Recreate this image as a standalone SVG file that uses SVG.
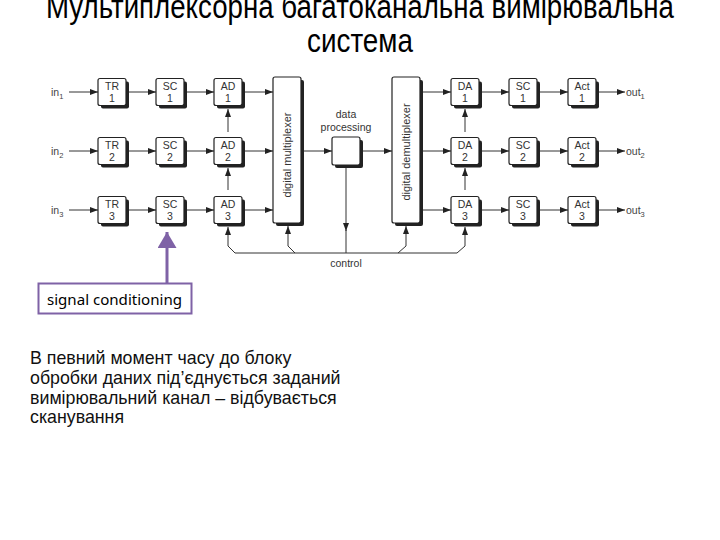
<svg xmlns="http://www.w3.org/2000/svg" width="720" height="540" viewBox="0 0 720 540">
<defs>
<style>
.t{font-family:"Liberation Sans",Arial,sans-serif;fill:#000}
.d{font-family:"Liberation Sans",Arial,sans-serif;fill:#333;font-size:10.5px;text-anchor:middle}
.v{font-size:11px}
.lbl{font-family:"Liberation Sans",Arial,sans-serif;fill:#444;font-size:10.5px}
.sub{font-size:7.5px}
.box{fill:#fff;stroke:#222;stroke-width:1.2}
.sh{fill:#222}
.ln{fill:none;stroke:#333;stroke-width:1}
.body{font-family:"Liberation Sans",Arial,sans-serif;font-size:17.8px;fill:#111}
</style>
<marker id="ah" viewBox="0 0 8 6" refX="8" refY="3" markerWidth="8" markerHeight="6" markerUnits="userSpaceOnUse" orient="auto">
<path d="M0,0 L8,3 L0,6 z" fill="#222"/>
</marker>
<marker id="pa" viewBox="0 0 16 19" refX="16" refY="9.5" markerWidth="16" markerHeight="19" markerUnits="userSpaceOnUse" orient="auto">
<path d="M0,0 L16,9.5 L0,19 z" fill="#7f62a6"/>
</marker>
</defs>

<g id="title">
<text class="t" x="360" y="18" font-size="33" text-anchor="middle" textLength="628" lengthAdjust="spacingAndGlyphs">Мультиплексорна багатоканальна вимірювальна</text>
<text class="t" x="360" y="52" font-size="33" text-anchor="middle" textLength="106" lengthAdjust="spacingAndGlyphs">система</text>
</g>

<g id="labels">
<text class="lbl" x="51" y="96">in<tspan class="sub" dy="3">1</tspan></text>
<text class="lbl" x="51" y="155">in<tspan class="sub" dy="3">2</tspan></text>
<text class="lbl" x="51" y="214">in<tspan class="sub" dy="3">3</tspan></text>
<text class="lbl" x="626" y="96">out<tspan class="sub" dy="3">1</tspan></text>
<text class="lbl" x="626" y="155">out<tspan class="sub" dy="3">2</tspan></text>
<text class="lbl" x="626" y="214">out<tspan class="sub" dy="3">3</tspan></text>
<text class="d" x="346" y="118">data</text>
<text class="d" x="346" y="131">processing</text>
<text class="d" x="346" y="267">control</text>
</g>

<g id="connectors">
<line class="ln" x1="69" y1="92" x2="98" y2="92" marker-end="url(#ah)"/>
<line class="ln" x1="69" y1="151" x2="98" y2="151" marker-end="url(#ah)"/>
<line class="ln" x1="69" y1="210" x2="98" y2="210" marker-end="url(#ah)"/>
<line class="ln" x1="129" y1="92" x2="156" y2="92" marker-end="url(#ah)"/>
<line class="ln" x1="129" y1="151" x2="156" y2="151" marker-end="url(#ah)"/>
<line class="ln" x1="129" y1="210" x2="156" y2="210" marker-end="url(#ah)"/>
<line class="ln" x1="187" y1="92" x2="214" y2="92" marker-end="url(#ah)"/>
<line class="ln" x1="187" y1="151" x2="214" y2="151" marker-end="url(#ah)"/>
<line class="ln" x1="187" y1="210" x2="214" y2="210" marker-end="url(#ah)"/>
<line class="ln" x1="245" y1="92" x2="273" y2="92" marker-end="url(#ah)"/>
<line class="ln" x1="245" y1="151" x2="273" y2="151" marker-end="url(#ah)"/>
<line class="ln" x1="245" y1="210" x2="273" y2="210" marker-end="url(#ah)"/>
<line class="ln" x1="304" y1="151" x2="332" y2="151" marker-end="url(#ah)"/>
<line class="ln" x1="363" y1="151" x2="392" y2="151" marker-end="url(#ah)"/>
<line class="ln" x1="423" y1="92" x2="451" y2="92" marker-end="url(#ah)"/>
<line class="ln" x1="423" y1="151" x2="451" y2="151" marker-end="url(#ah)"/>
<line class="ln" x1="423" y1="210" x2="451" y2="210" marker-end="url(#ah)"/>
<line class="ln" x1="482" y1="92" x2="509" y2="92" marker-end="url(#ah)"/>
<line class="ln" x1="482" y1="151" x2="509" y2="151" marker-end="url(#ah)"/>
<line class="ln" x1="482" y1="210" x2="509" y2="210" marker-end="url(#ah)"/>
<line class="ln" x1="540" y1="92" x2="568" y2="92" marker-end="url(#ah)"/>
<line class="ln" x1="540" y1="151" x2="568" y2="151" marker-end="url(#ah)"/>
<line class="ln" x1="540" y1="210" x2="568" y2="210" marker-end="url(#ah)"/>
<line class="ln" x1="599" y1="92" x2="625" y2="92" marker-end="url(#ah)"/>
<line class="ln" x1="599" y1="151" x2="625" y2="151" marker-end="url(#ah)"/>
<line class="ln" x1="599" y1="210" x2="625" y2="210" marker-end="url(#ah)"/>
<line class="ln" x1="228" y1="132" x2="228" y2="109" marker-end="url(#ah)"/>
<line class="ln" x1="228" y1="190" x2="228" y2="168" marker-end="url(#ah)"/>
<line class="ln" x1="465" y1="132" x2="465" y2="109" marker-end="url(#ah)"/>
<line class="ln" x1="465" y1="190" x2="465" y2="168" marker-end="url(#ah)"/>
<line class="ln" x1="235" y1="253" x2="457" y2="253"/>
<polyline class="ln" points="235,253 228,246 228,227" marker-end="url(#ah)"/>
<polyline class="ln" points="295,253 288,246 288,226" marker-end="url(#ah)"/>
<polyline class="ln" points="398,253 406,246 406,226" marker-end="url(#ah)"/>
<polyline class="ln" points="457,253 465,246 465,227" marker-end="url(#ah)"/>
<line class="ln" x1="346" y1="168" x2="346" y2="231" marker-end="url(#ah)"/>
<line class="ln" x1="346" y1="230" x2="346" y2="253"/>
</g>

<g id="TR1"><rect class="sh" x="101" y="81.5" width="28" height="27" rx="2"/><rect class="box" x="98" y="78.5" width="28" height="27" rx="2"/><text class="d" x="112" y="90">TR</text><text class="d" x="112" y="101.5">1</text></g>
<g id="TR2"><rect class="sh" x="101" y="140.5" width="28" height="27" rx="2"/><rect class="box" x="98" y="137.5" width="28" height="27" rx="2"/><text class="d" x="112" y="149">TR</text><text class="d" x="112" y="160.5">2</text></g>
<g id="TR3"><rect class="sh" x="101" y="199.5" width="28" height="27" rx="2"/><rect class="box" x="98" y="196.5" width="28" height="27" rx="2"/><text class="d" x="112" y="208">TR</text><text class="d" x="112" y="219.5">3</text></g>

<g id="SC1"><rect class="sh" x="159" y="81.5" width="28" height="27" rx="2"/><rect class="box" x="156" y="78.5" width="28" height="27" rx="2"/><text class="d" x="170" y="90">SC</text><text class="d" x="170" y="101.5">1</text></g>
<g id="SC2"><rect class="sh" x="159" y="140.5" width="28" height="27" rx="2"/><rect class="box" x="156" y="137.5" width="28" height="27" rx="2"/><text class="d" x="170" y="149">SC</text><text class="d" x="170" y="160.5">2</text></g>
<g id="SC3"><rect class="sh" x="159" y="199.5" width="28" height="27" rx="2"/><rect class="box" x="156" y="196.5" width="28" height="27" rx="2"/><text class="d" x="170" y="208">SC</text><text class="d" x="170" y="219.5">3</text></g>

<g id="AD1"><rect class="sh" x="217" y="81.5" width="28" height="27" rx="2"/><rect class="box" x="214" y="78.5" width="28" height="27" rx="2"/><text class="d" x="228" y="90">AD</text><text class="d" x="228" y="101.5">1</text></g>
<g id="AD2"><rect class="sh" x="217" y="140.5" width="28" height="27" rx="2"/><rect class="box" x="214" y="137.5" width="28" height="27" rx="2"/><text class="d" x="228" y="149">AD</text><text class="d" x="228" y="160.5">2</text></g>
<g id="AD3"><rect class="sh" x="217" y="199.5" width="28" height="27" rx="2"/><rect class="box" x="214" y="196.5" width="28" height="27" rx="2"/><text class="d" x="228" y="208">AD</text><text class="d" x="228" y="219.5">3</text></g>

<g id="mux"><rect class="sh" x="276" y="80" width="28" height="146" rx="2"/><rect class="box" x="273" y="77" width="28" height="146" rx="2"/><text class="d v" transform="translate(291,155) rotate(-90)">digital  multiplexer</text></g>
<g id="dataproc"><rect class="sh" x="335" y="140" width="28" height="28" rx="2"/><rect class="box" x="332" y="137" width="28" height="28" rx="2"/></g>
<g id="demux"><rect class="sh" x="395" y="80" width="28" height="146" rx="2"/><rect class="box" x="392" y="77" width="28" height="146" rx="2"/><text class="d v" transform="translate(410,152) rotate(-90)">digital  demultiplexer</text></g>

<g id="DA1"><rect class="sh" x="454" y="81.5" width="28" height="27" rx="2"/><rect class="box" x="451" y="78.5" width="28" height="27" rx="2"/><text class="d" x="465" y="90">DA</text><text class="d" x="465" y="101.5">1</text></g>
<g id="DA2"><rect class="sh" x="454" y="140.5" width="28" height="27" rx="2"/><rect class="box" x="451" y="137.5" width="28" height="27" rx="2"/><text class="d" x="465" y="149">DA</text><text class="d" x="465" y="160.5">2</text></g>
<g id="DA3"><rect class="sh" x="454" y="199.5" width="28" height="27" rx="2"/><rect class="box" x="451" y="196.5" width="28" height="27" rx="2"/><text class="d" x="465" y="208">DA</text><text class="d" x="465" y="219.5">3</text></g>

<g id="SCo1"><rect class="sh" x="512" y="81.5" width="28" height="27" rx="2"/><rect class="box" x="509" y="78.5" width="28" height="27" rx="2"/><text class="d" x="523" y="90">SC</text><text class="d" x="523" y="101.5">1</text></g>
<g id="SCo2"><rect class="sh" x="512" y="140.5" width="28" height="27" rx="2"/><rect class="box" x="509" y="137.5" width="28" height="27" rx="2"/><text class="d" x="523" y="149">SC</text><text class="d" x="523" y="160.5">2</text></g>
<g id="SCo3"><rect class="sh" x="512" y="199.5" width="28" height="27" rx="2"/><rect class="box" x="509" y="196.5" width="28" height="27" rx="2"/><text class="d" x="523" y="208">SC</text><text class="d" x="523" y="219.5">3</text></g>

<g id="Act1"><rect class="sh" x="571" y="81.5" width="28" height="27" rx="2"/><rect class="box" x="568" y="78.5" width="28" height="27" rx="2"/><text class="d" x="582" y="90">Act</text><text class="d" x="582" y="101.5">1</text></g>
<g id="Act2"><rect class="sh" x="571" y="140.5" width="28" height="27" rx="2"/><rect class="box" x="568" y="137.5" width="28" height="27" rx="2"/><text class="d" x="582" y="149">Act</text><text class="d" x="582" y="160.5">2</text></g>
<g id="Act3"><rect class="sh" x="571" y="199.5" width="28" height="27" rx="2"/><rect class="box" x="568" y="196.5" width="28" height="27" rx="2"/><text class="d" x="582" y="208">Act</text><text class="d" x="582" y="219.5">3</text></g>

<g id="signal-conditioning">
<line x1="167" y1="283" x2="167" y2="232" stroke="#7f62a6" stroke-width="3" marker-end="url(#pa)"/>
<rect x="38.5" y="283.5" width="153" height="30" fill="#fff" stroke="#7f62a6" stroke-width="2"/>
<text x="47" y="305" font-family="'Noto Sans','Open Sans',sans-serif" font-size="15" fill="#000" textLength="135" lengthAdjust="spacingAndGlyphs">signal conditioning</text>
</g>

<g id="note">
<text class="body" x="30" y="364">В певний момент часу до блоку</text>
<text class="body" x="30" y="384">обробки даних під’єднується заданий</text>
<text class="body" x="30" y="404">вимірювальний канал – відбувається</text>
<text class="body" x="30" y="423">сканування</text>
</g>
</svg>
